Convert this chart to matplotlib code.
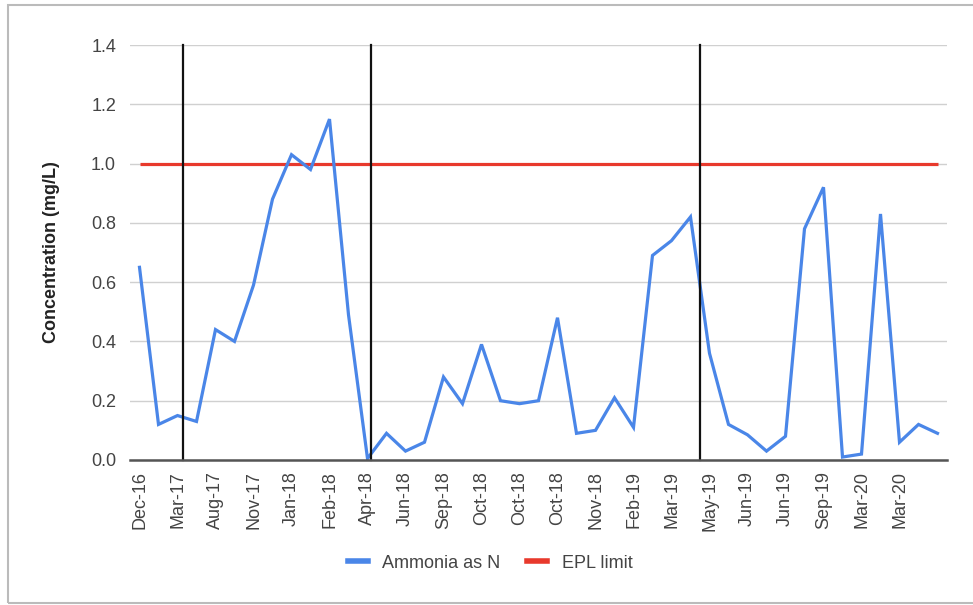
import matplotlib
matplotlib.use("Agg")
import matplotlib.pyplot as plt
from matplotlib.lines import Line2D
from matplotlib.patches import Rectangle

plt.rcParams['font.family'] = ['Liberation Sans', 'DejaVu Sans']

# ---- data ----
tick_labels = ["Dec-16", "Mar-17", "Aug-17", "Nov-17", "Jan-18", "Feb-18", "Apr-18",
               "Jun-18", "Sep-18", "Oct-18", "Oct-18", "Oct-18", "Nov-18", "Feb-19",
               "Mar-19", "May-19", "Jun-19", "Jun-19", "Sep-19", "Mar-20", "Mar-20"]
ammonia = [0.65, 0.12, 0.15, 0.13, 0.44, 0.40, 0.59, 0.88, 1.03, 0.98, 1.15, 0.49,
           0.005, 0.09, 0.03, 0.06, 0.28, 0.19, 0.39, 0.20, 0.19, 0.20, 0.48, 0.09,
           0.10, 0.21, 0.11, 0.69, 0.74, 0.82, 0.36, 0.12, 0.085, 0.03, 0.08, 0.78,
           0.92, 0.01, 0.02, 0.83, 0.06, 0.12, 0.09]
epl_limit = [1.0] * len(ammonia)
marker_lines = [2.3, 12.2, 29.5]
series_names = ["Ammonia as N", "EPL limit"]

W, H = 973, 605
fig = plt.figure(figsize=(W / 100, H / 100), dpi=100)
ax = fig.add_axes([130 / W, 1 - 460 / H, (947 - 130) / W, (460 - 45) / H])

x = list(range(len(ammonia)))
blue = "#4a86e8"
red = "#e8392c"
ax.plot(x, epl_limit, color=red, lw=2.3, solid_capstyle='butt', zorder=3)
ax.plot(x, ammonia, color=blue, lw=2.3, solid_joinstyle='miter', zorder=4)
for m in marker_lines:
    ax.plot([m, m], [0, 1.4], color="#111111", lw=1.6, zorder=5, clip_on=False)

ax.set_xlim(-0.5, len(ammonia) - 0.5)
ax.set_ylim(0, 1.4)
yt = [0.0, 0.2, 0.4, 0.6, 0.8, 1.0, 1.2, 1.4]
ax.set_yticks(yt)
ax.set_yticklabels([f"{v:.1f}" for v in yt])
ax.set_xticks([2 * i for i in range(len(tick_labels))])
ax.set_xticklabels(tick_labels, rotation=90)
ax.tick_params(axis='both', length=0, labelsize=13, labelcolor="#444444")
ax.tick_params(axis='y', pad=10)
ax.tick_params(axis='x', pad=8)
ax.grid(axis='y', color="#d0d0d0", lw=1)
ax.set_axisbelow(True)
for s in ['top', 'right', 'left']:
    ax.spines[s].set_visible(False)
ax.spines['bottom'].set_color("#555555")
ax.spines['bottom'].set_linewidth(1.8)
ax.spines['bottom'].set_zorder(6)

ax.set_ylabel("Concentration (mg/L)", fontsize=13, fontweight='bold', color="#222222", labelpad=22)

handles = [Line2D([], [], color=blue, lw=4), Line2D([], [], color=red, lw=4)]
fig.legend(handles, series_names, loc='center', bbox_to_anchor=(490 / W, 1 - 563 / H),
           ncol=2, frameon=False, fontsize=13, handlelength=1.1, handletextpad=0.8,
           columnspacing=1.5, labelcolor="#444444")

fig.patches.append(Rectangle((8 / W, 1 - 603 / H), 1.0, (603 - 5) / H, transform=fig.transFigure,
                             fill=False, edgecolor="#bbbbbb", lw=1.5))

fig.savefig("out.png", dpi=100)
